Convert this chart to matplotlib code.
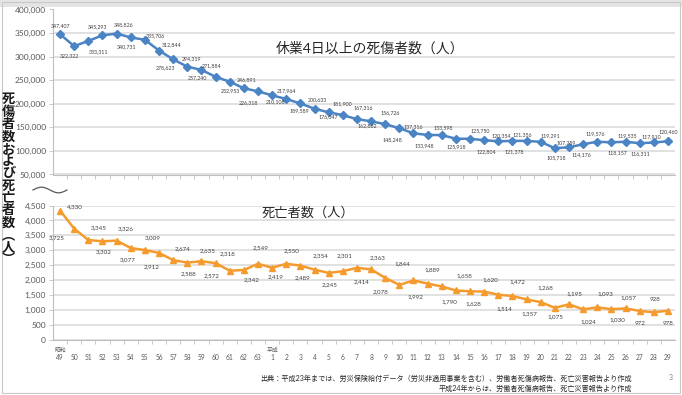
import numpy as np
import matplotlib.pyplot as plt
from matplotlib.ticker import FuncFormatter, FixedLocator
from matplotlib.lines import Line2D
from matplotlib.patches import Rectangle

plt.rcParams['font.family'] = ['Lato', 'Noto Sans CJK JP', 'DejaVu Sans']

# ---------------- data ----------------
years = ['49', '50', '51', '52', '53', '54', '55', '56', '57', '58', '59', '60',
         '61', '62', '63',
         '1', '2', '3', '4', '5', '6', '7', '8', '9', '10', '11', '12', '13',
         '14', '15', '16', '17', '18', '19', '20', '21', '22', '23', '24', '25',
         '26', '27', '28', '29']

injured = [347407, 322322, 333311, 345293, 348826, 340731, 335706, 312844,
           294319, 278623, 271884, 257240, 246891, 232953, 226318,
           217964, 210108, 200633, 189589, 181900, 176047, 167316, 162862,
           156726, 148248, 137316, 133948, 133598, 125918, 125750, 122804,
           120354, 121378, 121356, 119291, 105718, 107759, 114176, 119576,
           118157, 119535, 116311, 117910, 120460]

deaths = [4330, 3725, 3345, 3302, 3326, 3077, 3009, 2912, 2674, 2588, 2635,
          2572, 2318, 2342, 2549,
          2419, 2550, 2489, 2354, 2245, 2301, 2414, 2363, 2078, 1844, 1992,
          1889, 1790, 1658, 1628, 1620, 1514, 1472, 1357, 1268, 1075, 1195,
          1024, 1093, 1030, 1057, 972, 928, 978]

# data label offsets in pixels (dx, dy up)
inj_off = [(0, 9), (-5, -10), (10, -11), (-5, 9), (7, 9), (-4, -9), (11, 4),
           (13, 6), (18, 1), (-22, -1), (10, 4), (-18, -1), (17, 2), (-13, -2),
           (-9, -11), (14, 5), (-11, -3), (17, 4), (-15, -2), (14, 9),
           (-15, -2), (6, 11), (-4, -4), (5, 11), (-7, -12), (0, 7),
           (-3, -11), (2, 7), (0, -8), (10, 8), (2, -12), (3, 6), (2, -11),
           (-4, 6), (10, 6), (2, -9), (-3, 5), (-2, -10), (-2, 8), (6, -10),
           (2, 6), (1, -10), (-2, 6), (0, 10)]

dth_off = [(15, 4), (-18, -9), (10, 12), (1, -10), (9, 12), (-3, -12),
           (8, 12), (-7, -14), (9, 11), (1, -11), (6, 11), (-4, -13),
           (-2, 17), (8, -10), (3, 16), (4, -9), (5, 13), (2, -12), (6, 14),
           (1, -12), (2, 16), (5, -14), (7, 12), (-5, -14), (3, 21), (2, -16),
           (5, 14), (8, -15), (8, 15), (3, -12), (6, 12), (6, -14), (5, 14),
           (3, -14), (5, 14), (1, -9), (5, 11), (5, -12), (8, 14), (6, -11),
           (3, 11), (0, -13), (1, 13), (0, -13)]

W, H = 682, 395
BLUE = '#4A84C4'
ORANGE = '#F59B2E'
GRID = '#D9D9D9'
TXT = '#595959'


def fx(x):
    return x / W


def fy(y):
    return 1 - y / H


def axes_px(left, top, right, bottom):
    return fig.add_axes([fx(left), fy(bottom), (right - left) / W, (bottom - top) / H])


fig = plt.figure(figsize=(W / 100, H / 100), dpi=100)
fig.patch.set_facecolor('white')

x = np.arange(len(years))
thousands = FuncFormatter(lambda v, p: f'{int(v):,}')

# ---------------- top chart ----------------
ax1 = axes_px(53, 9.5, 675, 174.5)
ax1.plot(x, injured, color=BLUE, lw=1.8, marker='D', ms=4, zorder=3)
ax1.set_xlim(-0.5, len(years) - 0.5)
ax1.set_ylim(50000, 400000)
ax1.set_yticks(np.arange(50000, 400001, 50000))
ax1.yaxis.set_major_formatter(thousands)
ax1.xaxis.set_major_locator(FixedLocator(x[:-1] + 0.5))
ax1.set_xticklabels([])
for i, v in enumerate(injured):
    ax1.annotate(f'{v:,}', (x[i], v), xytext=inj_off[i], textcoords='offset pixels',
                 ha='center', va='center', fontsize=3.8, color='#404040', zorder=4)
ax1.text(0.51, 0.77, '休業4日以上の死傷者数（人）', transform=ax1.transAxes,
         ha='center', va='center', fontsize=10, color='#262626')

# ---------------- bottom chart ----------------
ax2 = axes_px(53, 205.5, 675, 340)
ax2.plot(x, deaths, color=ORANGE, lw=1.8, marker='^', ms=5, zorder=3)
ax2.set_xlim(-0.5, len(years) - 0.5)
ax2.set_ylim(0, 4500)
ax2.set_yticks(np.arange(0, 4501, 500))
ax2.yaxis.set_major_formatter(thousands)
ax2.xaxis.set_major_locator(FixedLocator(x[:-1] + 0.5))
ax2.set_xticklabels([])
ax2.xaxis.set_minor_locator(FixedLocator(x))
ax2.set_xticklabels(years, minor=True)
ax2.tick_params(axis='x', which='minor', length=0, pad=10, labelsize=4.8, labelcolor=TXT)
for i, v in enumerate(deaths):
    ax2.annotate(f'{v:,}', (x[i], v), xytext=dth_off[i], textcoords='offset pixels',
                 ha='center', va='center', fontsize=4.5, color='#404040', zorder=4)
ax2.text(0.41, 0.95, '死亡者数（人）', transform=ax2.transAxes,
         ha='center', va='center', fontsize=9.5, color='#262626')
era = ax2.get_xaxis_transform()
ax2.text(0, -0.06, '昭和', transform=era, ha='center', va='top', fontsize=4.2, color=TXT)
ax2.text(15, -0.06, '平成', transform=era, ha='center', va='top', fontsize=4.2, color=TXT)

for ax in (ax1, ax2):
    ax.set_facecolor('none')
    ax.grid(axis='y', color=GRID, lw=1.1)
    ax.set_axisbelow(True)
    for s in ('top', 'right'):
        ax.spines[s].set_visible(False)
    for s in ('left', 'bottom'):
        ax.spines[s].set_color('#BFBFBF')
        ax.spines[s].set_linewidth(0.8)
    ax.tick_params(axis='y', length=3, width=0.6, color='#BFBFBF',
                   labelsize=6, labelcolor=TXT, pad=2)
    ax.tick_params(axis='x', which='major', length=3, width=0.6, color='#BFBFBF')

# axis break mark
t = np.linspace(0, 1, 60)
fig.add_artist(Line2D(fx(33 + 34 * t), fy(190 - 2.8 * np.sin(2 * np.pi * t)),
                      color='#595959', lw=0.9))

# vertical y-axis title
fig.text(fx(8.5), fy(179), '\n'.join('死傷者数および死亡者数︵人︶'), ha='center', va='center',
         fontsize=9.5, linespacing=1.02, color='#1a1a1a', fontweight='bold')

# source note and page number
fig.text(fx(632), fy(378), '出典：平成23年までは、労災保険給付データ（労災非適用事業を含む）、労働者死傷病報告、死亡災害報告より作成',
         ha='right', va='center', fontsize=5.1, color='#262626')
fig.text(fx(632), fy(388), '平成24年からは、労働者死傷病報告、死亡災害報告より作成',
         ha='right', va='center', fontsize=5.1, color='#262626')
fig.text(fx(671), fy(378), '3', ha='center', va='center', fontsize=5, color='#7f7f7f')

# slide frame
fig.add_artist(Rectangle((fx(2), fy(393)), (W - 4) / W, 391 / H, fill=False,
                         ec='#c8c8c8', lw=0.8))
fig.add_artist(Rectangle((0, fy(7)), 1, 7 / H, color='#e4e4e4', lw=0, zorder=0))

fig.savefig('out.png', dpi=100)
